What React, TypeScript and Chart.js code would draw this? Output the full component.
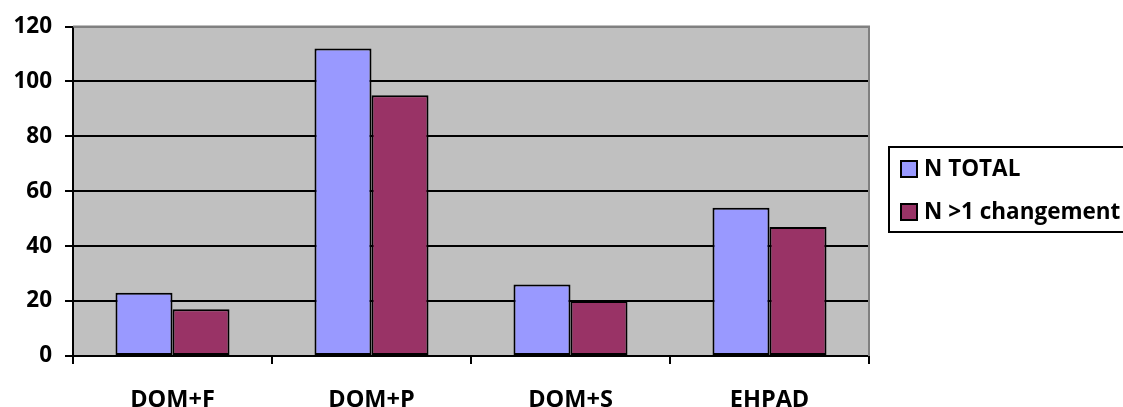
import React, { useEffect, useRef } from "react";
import { Chart, registerables } from "chart.js";

Chart.register(...registerables);

const categories = ["DOM+F", "DOM+P", "DOM+S", "EHPAD"];
const nTotal = [23, 112, 26, 54];
const nChangement = [17, 95, 20, 47];
const seriesLabels = ["N TOTAL", "N >1 changement"];
const seriesColors = ["#9999FF", "#993366"];

const FONT = "'Open Sans', Lato, sans-serif";

// Grey plot background plus the grey top/right frame
const plotFrame = {
  id: "plotFrame",
  beforeDraw(chart: any) {
    const { ctx, chartArea: a } = chart;
    ctx.save();
    ctx.fillStyle = "#C0C0C0";
    ctx.fillRect(a.left, a.top, a.right - a.left, a.bottom - a.top);
    ctx.restore();
  },
  beforeDatasetsDraw(chart: any) {
    const { ctx, chartArea: a } = chart;
    ctx.save();
    ctx.strokeStyle = "#808080";
    ctx.lineWidth = 2;
    ctx.beginPath();
    ctx.moveTo(a.left, a.top);
    ctx.lineTo(a.right, a.top);
    ctx.lineTo(a.right, a.bottom);
    ctx.stroke();
    ctx.restore();
  },
};

// Boxed legend on the right-hand side
const boxedLegend = {
  id: "boxedLegend",
  afterDraw(chart: any) {
    const { ctx } = chart;
    const boxLeft = 889;
    const boxTop = 147;
    const boxBottom = 232;
    const rows = [169, 212];
    ctx.save();
    ctx.fillStyle = "#FFFFFF";
    ctx.fillRect(boxLeft, boxTop, 1123 - boxLeft + 4, boxBottom - boxTop);
    ctx.strokeStyle = "#000";
    ctx.lineWidth = 2;
    ctx.strokeRect(boxLeft, boxTop, 1123 - boxLeft + 4, boxBottom - boxTop);
    ctx.font = `bold 22.5px ${FONT}`;
    ctx.textBaseline = "middle";
    ctx.textAlign = "left";
    chart.data.datasets.forEach((ds: any, i: number) => {
      const cy = rows[i];
      ctx.fillStyle = ds.backgroundColor;
      ctx.fillRect(901, cy - 8, 16, 16);
      ctx.strokeStyle = "#000";
      ctx.lineWidth = 2;
      ctx.strokeRect(901, cy - 8, 16, 16);
      ctx.fillStyle = "#000";
      ctx.fillText(ds.label, 924, cy + 1);
    });
    ctx.restore();
  },
};

export default function App() {
  const ref = useRef<HTMLCanvasElement | null>(null);

  useEffect(() => {
    if (!ref.current) return;
    const chart = new Chart(ref.current, {
      type: "bar",
      data: {
        labels: categories,
        datasets: [
          {
            label: seriesLabels[0],
            data: nTotal,
            backgroundColor: seriesColors[0],
            borderColor: "#000",
            borderWidth: 2,
            borderSkipped: false,
          },
          {
            label: seriesLabels[1],
            data: nChangement,
            backgroundColor: seriesColors[1],
            borderColor: "#000",
            borderWidth: 2,
            borderSkipped: false,
          },
        ],
      },
      options: {
        animation: false,
        responsive: true,
        maintainAspectRatio: false,
        layout: { padding: { left: 0, right: 254, top: 23, bottom: 0 } },
        datasets: {
          bar: { categoryPercentage: 0.573, barPercentage: 1 },
        },
        plugins: {
          legend: { display: false },
          tooltip: { enabled: false },
        },
        scales: {
          x: {
            afterFit: (s: any) => {
              s.height = 51;
            },
            grid: {
              drawOnChartArea: false,
              drawTicks: true,
              tickLength: 8,
              offset: true,
              color: "#000",
              lineWidth: 2,
            },
            border: { display: true, color: "#000", width: 2 },
            ticks: {
              color: "#000",
              padding: 22,
              font: { family: FONT, size: 23.5, weight: "bold" },
            },
          },
          y: {
            min: 0,
            max: 120,
            afterFit: (s: any) => {
              s.width = 73;
            },
            grid: {
              color: (c: any) => (c.tick && c.tick.value === 120 ? "#808080" : "#000"),
              tickColor: "#000",
              lineWidth: 2,
              drawTicks: true,
              tickLength: 8,
            },
            border: { display: true, color: "#000", width: 2 },
            ticks: {
              stepSize: 20,
              color: "#000",
              padding: 13,
              font: { family: FONT, size: 22.5, weight: "bold" },
            },
          },
        },
      },
      plugins: [plotFrame, boxedLegend],
    });
    return () => chart.destroy();
  }, []);

  return (
    <div style={{ position: "fixed", left: 0, top: 0, width: 1123, height: 407, background: "#fff" }}>
      <canvas ref={ref} />
    </div>
  );
}
